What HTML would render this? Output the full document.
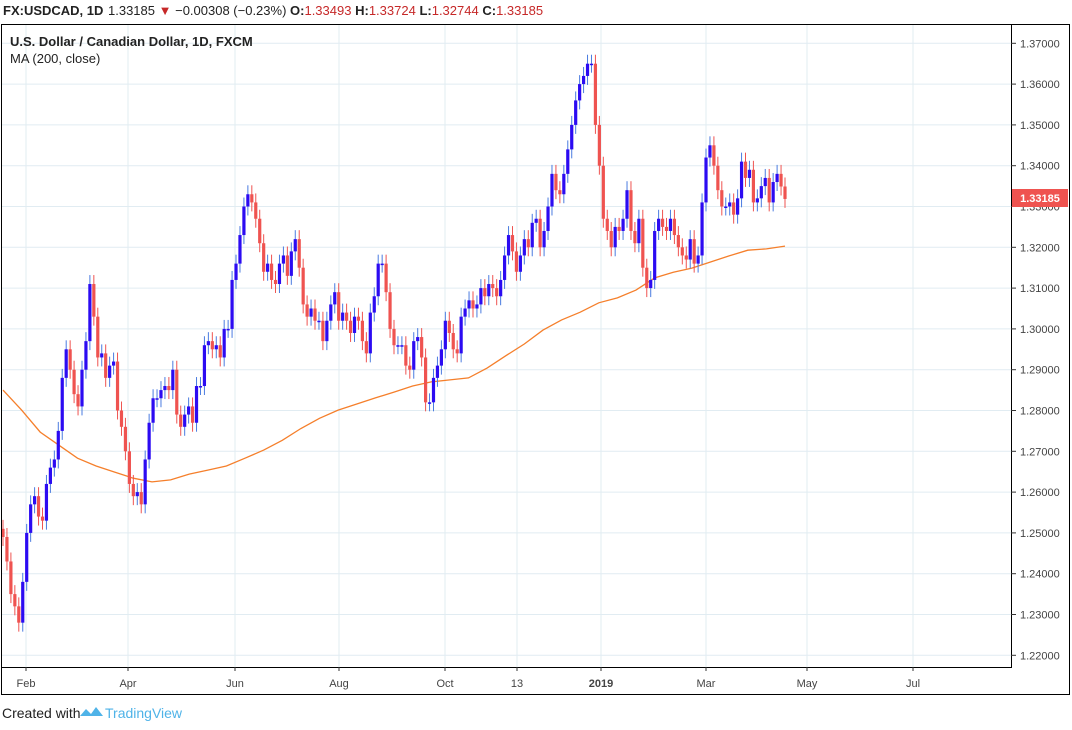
<!DOCTYPE html>
<html><head><meta charset="utf-8"><style>
body{margin:0;background:#fff;width:1072px;height:725px;overflow:hidden;font-family:"Liberation Sans",sans-serif}
</style></head><body>
<svg id="chart" width="1072" height="725" xmlns="http://www.w3.org/2000/svg" font-family="Liberation Sans, sans-serif">
<g id="grid"></g>
<g id="ma"></g>
<g id="candles"></g>
<rect x="1.5" y="24.5" width="1010" height="643" fill="none" stroke="#000" stroke-width="1"/>
<rect x="1.5" y="24.5" width="1068" height="670" fill="none" stroke="#000" stroke-width="1"/>
<g id="axes" font-size="11" fill="#444"></g>
<text x="3" y="15" font-size="13" font-weight="bold" fill="#222">FX:USDCAD, 1D</text>
<text x="108" y="15" font-size="13" fill="#222">1.33185 <tspan fill="#c62828">▼</tspan> −0.00308 (−0.23%) <tspan font-weight="bold">O:</tspan><tspan fill="#c62828">1.33493</tspan> <tspan font-weight="bold">H:</tspan><tspan fill="#c62828">1.33724</tspan> <tspan font-weight="bold">L:</tspan><tspan fill="#c62828">1.32744</tspan> <tspan font-weight="bold">C:</tspan><tspan fill="#c62828">1.33185</tspan></text>
<text x="10" y="46" font-size="13" font-weight="bold" fill="#222">U.S. Dollar / Canadian Dollar, 1D, FXCM</text>
<text x="10" y="63" font-size="13" fill="#222">MA (200, close)</text>
<g>
<rect x="1012" y="189" width="56" height="18" fill="#ef5350"/>
<text x="1040" y="202" font-size="11" font-weight="bold" fill="#fff" text-anchor="middle">1.33185</text>
</g>
<g>
<text x="2" y="718" font-size="14" fill="#222">Created with</text>
<path d="M80 716 l6 -7 l5 5 l5 -7 l7 9 z" fill="#4fb3e8"/>
<text x="105" y="718" font-size="14" fill="#4fb3e8">TradingView</text>
</g>
</svg>
<script>
const closes=[1.249,1.243,1.235,1.232,1.228,1.238,1.250,1.257,1.259,1.254,1.253,1.262,1.266,1.268,1.275,1.288,1.295,1.290,1.284,1.281,1.290,1.297,1.311,1.303,1.293,1.294,1.288,1.291,1.292,1.280,1.276,1.270,1.262,1.259,1.260,1.257,1.268,1.277,1.283,1.283,1.285,1.286,1.285,1.290,1.279,1.276,1.279,1.281,1.277,1.286,1.286,1.296,1.297,1.295,1.296,1.293,1.300,1.300,1.312,1.316,1.323,1.330,1.333,1.331,1.327,1.321,1.314,1.316,1.312,1.311,1.316,1.318,1.313,1.319,1.322,1.315,1.306,1.303,1.305,1.302,1.302,1.297,1.302,1.306,1.309,1.302,1.304,1.302,1.299,1.303,1.302,1.297,1.294,1.304,1.308,1.316,1.316,1.309,1.300,1.296,1.296,1.296,1.291,1.290,1.297,1.298,1.293,1.282,1.282,1.288,1.291,1.295,1.302,1.299,1.295,1.294,1.303,1.305,1.307,1.305,1.306,1.310,1.308,1.311,1.310,1.308,1.312,1.318,1.323,1.319,1.314,1.318,1.322,1.320,1.326,1.327,1.320,1.324,1.330,1.338,1.334,1.333,1.338,1.344,1.350,1.356,1.360,1.362,1.365,1.365,1.350,1.340,1.327,1.324,1.320,1.325,1.324,1.327,1.334,1.324,1.321,1.327,1.315,1.310,1.312,1.324,1.327,1.325,1.324,1.327,1.323,1.320,1.318,1.317,1.322,1.316,1.318,1.331,1.342,1.345,1.340,1.334,1.330,1.330,1.331,1.328,1.332,1.341,1.337,1.339,1.331,1.332,1.335,1.337,1.331,1.336,1.338,1.3349,1.33185];
const maValues=[1.2850,1.2801,1.2747,1.2715,1.2683,1.2664,1.2649,1.2634,1.2625,1.2630,1.2644,1.2654,1.2664,1.2683,1.2703,1.2727,1.2756,1.2781,1.2801,1.2816,1.2831,1.2845,1.2860,1.2870,1.2875,1.2880,1.2904,1.2934,1.2963,1.2997,1.3022,1.3041,1.3064,1.3076,1.3095,1.3125,1.3139,1.3149,1.3164,1.3179,1.3193,1.3196,1.3203];
const priceTicks=[1.37,1.36,1.35,1.34,1.33,1.32,1.31,1.30,1.29,1.28,1.27,1.26,1.25,1.24,1.23,1.22];
const timeLabels=["Feb","Apr","Jun","Aug","Oct","13","2019","Mar","May","Jul"];
const timeLabelX=[26,128,235,339,445,517,601,706,807,913];
const NS="http://www.w3.org/2000/svg";
const x0=3,x1=785;
function yScale(p){return 43.3+(1.37-p)*4080;}
function xScale(i,n){return x0+(x1-x0)*i/(n-1);}
function mk(tag,attrs,parent){const e=document.createElementNS(NS,tag);for(const k in attrs)e.setAttribute(k,attrs[k]);parent.appendChild(e);return e;}
const grid=document.getElementById('grid'),axes=document.getElementById('axes');
priceTicks.forEach(p=>{const y=yScale(p);
 const g=mk('line',{x1:2,x2:1011,y1:y,y2:y,stroke:'#e1ecf2','stroke-width':1},grid);
 
 
 const t=mk('line',{x1:1011,x2:1016,y1:y,y2:y,stroke:'#333'},axes);
 
 
 const l=mk('text',{x:1020,y:y+4},axes);l.textContent=p.toFixed(5);
 
 
});
timeLabels.forEach((s,i)=>{const x=timeLabelX[i];
 const g=mk('line',{x1:x,x2:x,y1:25,y2:667,stroke:'#e1ecf2'},grid);
 
 
 const t=mk('line',{x1:x,x2:x,y1:667,y2:671,stroke:'#333'},axes);
 
 
 const l=mk('text',{x:x,y:687,'text-anchor':'middle','font-weight':s==='2019'?'bold':'normal'},axes);l.textContent=s;
 
 
});
const maG=document.getElementById('ma');
const pts=maValues.map((v,i)=>xScale(i,maValues.length).toFixed(1)+','+yScale(v).toFixed(1)).join(' ');
const ml=mk('polyline',{points:pts,fill:'none',stroke:'#f57f2b','stroke-width':1.3},maG);


const cg=document.getElementById('candles');
const n=closes.length;
closes.forEach((c,i)=>{
 const o=i>0?closes[i-1]:c+0.002;const up=c>=o;
 const x=xScale(i,n);
 const hi=Math.max(o,c)+0.0022,lo=Math.min(o,c)-0.0022;
 const w=mk('line',{x1:x,x2:x,y1:yScale(hi),y2:yScale(lo),stroke:up?'#4a7be0':'#ef5350','stroke-width':1},cg);
 
 
 const yt=yScale(Math.max(o,c)),yb=yScale(Math.min(o,c));
 const b=mk('rect',{x:x-1.6,y:yt,width:3.2,height:Math.max(1.5,yb-yt),fill:up?'#2c0bf2':'#ef5350'},cg);
 
 
});
</script>
</body></html>
